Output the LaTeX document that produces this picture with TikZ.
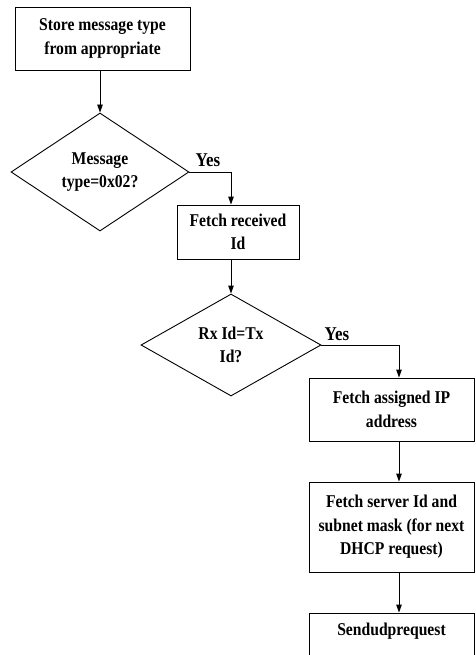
\documentclass[tikz,border=0pt]{standalone}
\usepackage{fontspec}
\setmainfont[FakeStretch=0.87]{Liberation Serif}
\usetikzlibrary{shapes.geometric,arrows.meta}
\begin{document}
\begin{tikzpicture}[x=1pt,y=-1pt,
  every node/.style={font=\bfseries\fontsize{18}{23.5}\selectfont, align=center, inner sep=0pt},
  procbox/.style={draw, line width=0.9pt, rectangle},
  decision/.style={draw, line width=0.9pt, diamond},
  flow/.style={draw, line width=0.9pt, -{Triangle[length=8pt,width=5.5pt]}},
  yeslabel/.style={anchor=base west, font=\bfseries\fontsize{19.5}{22}\selectfont}]
  \useasboundingbox (0,0) rectangle (475,655);

  % process boxes and decisions
  \node[procbox, minimum width=175, minimum height=63] (store) at (102.5,38.5)
    {Store message type\\from appropriate};
  \node[decision, minimum width=178, minimum height=118] (msgtype) at (100,172)
    {Message\\type=0x02?};
  \node[procbox, minimum width=122, minimum height=54] (fetchid) at (238,232)
    {Fetch received\\Id};
  \node[decision, minimum width=180, minimum height=102] (idcheck) at (231,345)
    {Rx Id=Tx\\Id?};
  \node[procbox, minimum width=165, minimum height=63] (fetchip) at (391.5,409.5)
    {Fetch assigned IP\\address};
  \node[procbox, minimum width=165, minimum height=90] (fetchsrv) at (391.5,527)
    {Fetch server Id and\\subnet mask (for next\\DHCP request)};
  \node[procbox, minimum width=165, minimum height=60, text depth=28pt] (send) at (391.5,643)
    {Sendudprequest};

  % connectors
  \draw[flow] (store.south -| msgtype.north) -- (msgtype.north);
  \draw[flow] (msgtype.east) -| (idcheck.north |- fetchid.north);
  \node[yeslabel] (yes1) at ([xshift=6pt,yshift=5pt]msgtype.east) {Yes};
  \draw[flow] (fetchid.south -| idcheck.north) -- (idcheck.north);
  \coordinate (col) at ([xshift=7.5pt]fetchip.north);
  \draw[flow] (idcheck.east) -| (col);
  \node[yeslabel] (yes2) at ([xshift=3pt,yshift=5pt]idcheck.east) {Yes};
  \draw[flow] (fetchip.south -| col) -- (fetchsrv.north -| col);
  \draw[flow] (fetchsrv.south -| col) -- (send.north -| col);
\end{tikzpicture}
\end{document}
